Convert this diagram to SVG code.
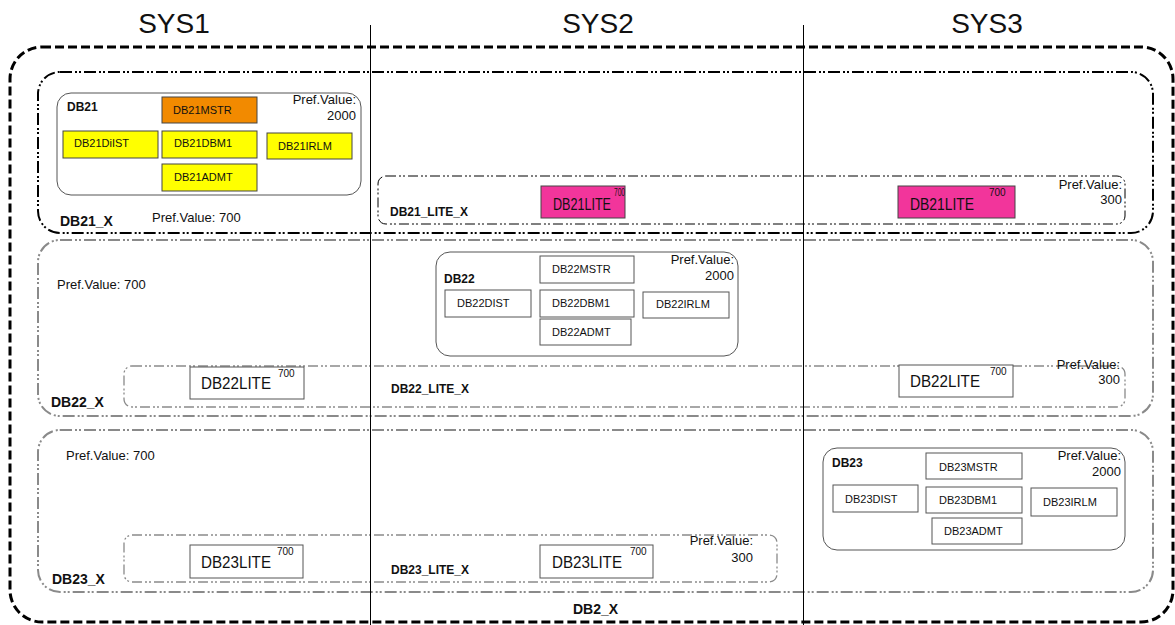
<svg xmlns="http://www.w3.org/2000/svg" width="1175" height="625" viewBox="0 0 1175 625">
<style>
text{font-family:"Liberation Sans",Arial,sans-serif;fill:#111}
.sys{font-size:28px}
.lbl{font-size:14px;font-weight:bold}
.pv{font-size:13px}
.sm{font-size:11px}
.lite{font-size:16px}
.sup{font-size:10px}
.outer{fill:none;stroke:#000;stroke-width:3;stroke-dasharray:9 4}
.grpK{fill:none;stroke:#000;stroke-width:2;stroke-dasharray:12 3 2 2 2 3}
.grpG{fill:none;stroke:#8a8a8a;stroke-width:2;stroke-dasharray:12 3 2 2 2 3}
.liteK{fill:none;stroke:#000;stroke-width:1;stroke-dasharray:10 3 2 2 2 3}
.liteG{fill:none;stroke:#8a8a8a;stroke-width:1.3;stroke-dasharray:10 3 2 2 2 3}
.db{fill:#fff;stroke:#555;stroke-width:1}
.box{fill:#fff;stroke:#555;stroke-width:1}
.yel{fill:#ffff00;stroke:#444;stroke-width:1}
.org{fill:#f28a00;stroke:#444;stroke-width:1}
.pink{fill:#f2359b;stroke:#444;stroke-width:1}
.sep{stroke:#000;stroke-width:1}
</style>

<g id="columns">
<text class="sys" x="174" y="33" text-anchor="middle">SYS1</text>
<text class="sys" x="598" y="33" text-anchor="middle">SYS2</text>
<text class="sys" x="987" y="33" text-anchor="middle">SYS3</text>
</g>

<g id="DB2_X">
<rect class="outer" x="10" y="47" width="1163" height="575" rx="32" ry="32"/>
<text class="lbl" x="573" y="614">DB2_X</text>
</g>

<g id="DB21_X">
<rect class="grpK" x="38" y="72" width="1115" height="161" rx="22" ry="22"/>
<text class="lbl" x="60" y="226">DB21_X</text>
<text class="pv" x="152" y="222">Pref.Value: 700</text>
</g>

<g id="DB21">
<rect class="db" x="57" y="93" width="304" height="102" rx="14" ry="14"/>
<text class="lbl" x="67" y="111" style="font-size:12px">DB21</text>
<text class="pv" x="356" y="104" text-anchor="end">Pref.Value:</text>
<text class="pv" x="356" y="120" text-anchor="end">2000</text>
<rect class="org" x="162" y="97" width="95" height="26"/>
<text class="sm" x="173" y="114">DB21MSTR</text>
<rect class="yel" x="63" y="131" width="95" height="27"/>
<text class="sm" x="74" y="147">DB21DiIST</text>
<rect class="yel" x="162" y="131" width="95" height="27"/>
<text class="sm" x="174" y="147">DB21DBM1</text>
<rect class="yel" x="267" y="133" width="85" height="26"/>
<text class="sm" x="278" y="150">DB21IRLM</text>
<rect class="yel" x="162" y="164" width="95" height="27"/>
<text class="sm" x="174" y="181">DB21ADMT</text>
</g>

<g id="DB21_LITE_X">
<rect class="liteK" x="378" y="176" width="747" height="48" rx="8" ry="8"/>
<text class="lbl" x="390" y="216" style="font-size:12px">DB21_LITE_X</text>
<rect class="pink" x="541" y="186" width="84" height="32"/>
<text class="lite" x="553" y="210" textLength="58" lengthAdjust="spacingAndGlyphs">DB21LITE</text>
<text class="sup" x="614" y="196" textLength="11" lengthAdjust="spacingAndGlyphs">700</text>
<rect class="pink" x="898" y="186" width="117" height="32"/>
<text class="lite" x="910" y="210" textLength="64" lengthAdjust="spacingAndGlyphs">DB21LITE</text>
<text class="sup" x="989" y="196">700</text>
<text class="pv" x="1122" y="189" text-anchor="end">Pref.Value:</text>
<text class="pv" x="1122" y="204" text-anchor="end">300</text>
</g>

<g id="DB22_X">
<rect class="grpG" x="38" y="240" width="1115" height="176" rx="22" ry="22"/>
<text class="pv" x="57" y="289">Pref.Value: 700</text>
<text class="lbl" x="51" y="407">DB22_X</text>
</g>

<g id="DB22">
<rect class="db" x="436" y="252" width="302" height="104" rx="14" ry="14"/>
<text class="lbl" x="444" y="283" style="font-size:12px">DB22</text>
<text class="pv" x="734" y="264" text-anchor="end">Pref.Value:</text>
<text class="pv" x="734" y="280" text-anchor="end">2000</text>
<rect class="box" x="540" y="256" width="94" height="27"/>
<text class="sm" x="552" y="273">DB22MSTR</text>
<rect class="box" x="445" y="290" width="86" height="27"/>
<text class="sm" x="457" y="307">DB22DIST</text>
<rect class="box" x="540" y="290" width="94" height="27"/>
<text class="sm" x="552" y="307">DB22DBM1</text>
<rect class="box" x="643" y="292" width="86" height="26"/>
<text class="sm" x="656" y="308">DB22IRLM</text>
<rect class="box" x="540" y="319" width="91" height="26"/>
<text class="sm" x="552" y="336">DB22ADMT</text>
</g>

<g id="DB22_LITE_X">
<rect class="liteG" x="124" y="366" width="1001" height="41" rx="8" ry="8"/>
<text class="lbl" x="391" y="393" style="font-size:12px">DB22_LITE_X</text>
<rect class="box" x="190" y="367" width="114" height="32"/>
<text class="lite" x="201" y="389" textLength="70" lengthAdjust="spacingAndGlyphs">DB22LITE</text>
<text class="sup" x="278" y="377">700</text>
<rect class="box" x="899" y="365" width="114" height="32"/>
<text class="lite" x="910" y="387" textLength="70" lengthAdjust="spacingAndGlyphs">DB22LITE</text>
<text class="sup" x="990" y="375">700</text>
<text class="pv" x="1120" y="369" text-anchor="end">Pref.Value:</text>
<text class="pv" x="1120" y="384" text-anchor="end">300</text>
</g>

<g id="DB23_X">
<rect class="grpG" x="38" y="430" width="1115" height="162" rx="22" ry="22"/>
<text class="pv" x="66" y="460">Pref.Value: 700</text>
<text class="lbl" x="52" y="584">DB23_X</text>
</g>

<g id="DB23">
<rect class="db" x="823" y="448" width="302" height="102" rx="14" ry="14"/>
<text class="lbl" x="832" y="467" style="font-size:12px">DB23</text>
<text class="pv" x="1121" y="460" text-anchor="end">Pref.Value:</text>
<text class="pv" x="1121" y="476" text-anchor="end">2000</text>
<rect class="box" x="926" y="453" width="96" height="26"/>
<text class="sm" x="939" y="471">DB23MSTR</text>
<rect class="box" x="833" y="485" width="85" height="27"/>
<text class="sm" x="845" y="503">DB23DIST</text>
<rect class="box" x="926" y="487" width="96" height="26"/>
<text class="sm" x="939" y="504">DB23DBM1</text>
<rect class="box" x="1031" y="488" width="86" height="28"/>
<text class="sm" x="1043" y="506">DB23IRLM</text>
<rect class="box" x="932" y="518" width="90" height="26"/>
<text class="sm" x="944" y="535">DB23ADMT</text>
</g>

<g id="DB23_LITE_X">
<rect class="liteG" x="124" y="535" width="653" height="47" rx="8" ry="8"/>
<text class="lbl" x="391" y="574" style="font-size:12px">DB23_LITE_X</text>
<rect class="box" x="190" y="545" width="113" height="33"/>
<text class="lite" x="201" y="568" textLength="70" lengthAdjust="spacingAndGlyphs">DB23LITE</text>
<text class="sup" x="277" y="555">700</text>
<rect class="box" x="540" y="545" width="113" height="33"/>
<text class="lite" x="552" y="568" textLength="70" lengthAdjust="spacingAndGlyphs">DB23LITE</text>
<text class="sup" x="630" y="555">700</text>
<text class="pv" x="753" y="545" text-anchor="end">Pref.Value:</text>
<text class="pv" x="753" y="562" text-anchor="end">300</text>
</g>

<g id="connectors">
<line class="sep" x1="370.5" y1="25" x2="370.5" y2="625"/>
<line class="sep" x1="803.5" y1="25" x2="803.5" y2="625"/>
</g>
</svg>
